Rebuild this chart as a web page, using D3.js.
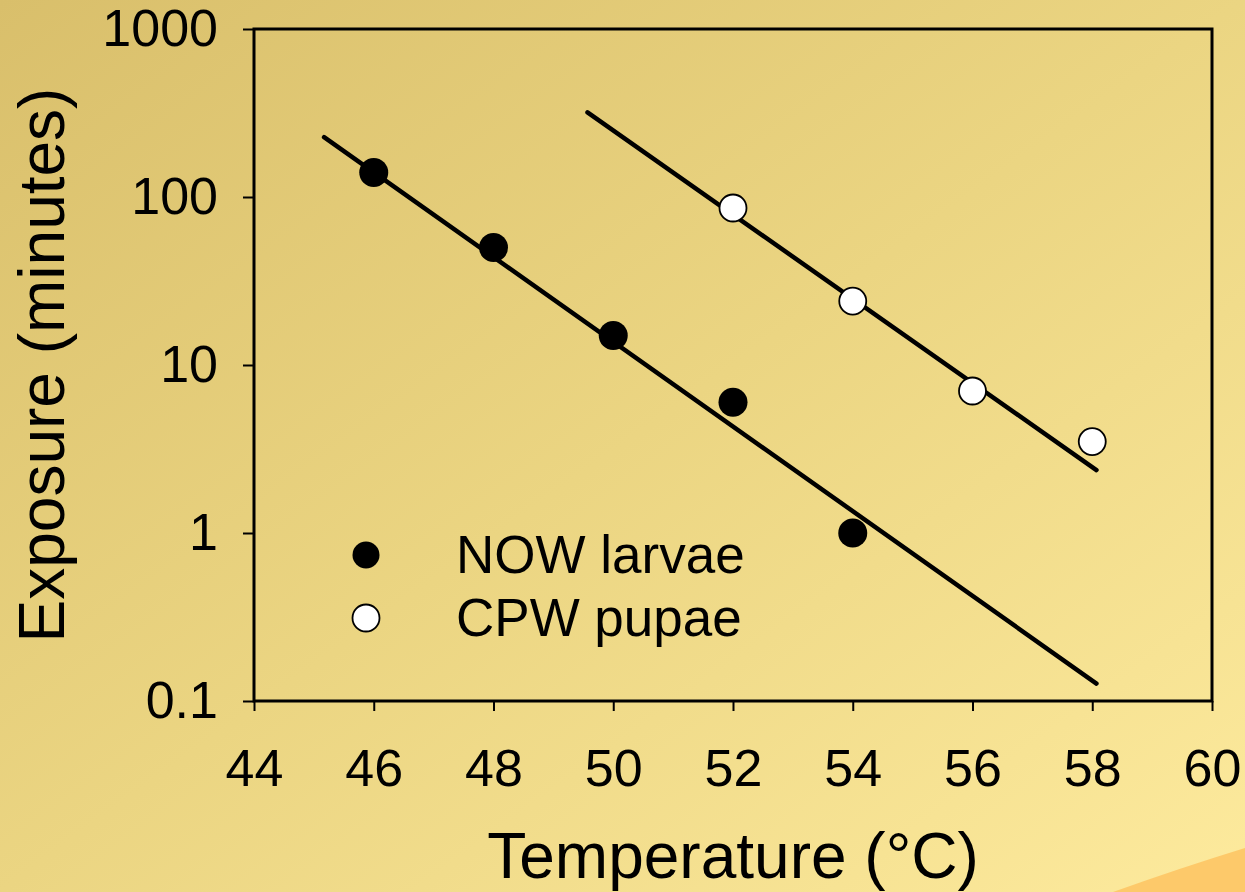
<!DOCTYPE html>
<html>
<head>
<meta charset="utf-8">
<script src="https://cdn.jsdelivr.net/npm/d3@7"></script>
<style>
  body { margin: 0; overflow: hidden; }
  svg { display: block; font-family: "Liberation Sans", Arial, sans-serif; }
</style>
</head>
<body>
<div id="chart"></div>
<script>
// Data
const nowTemps = [46, 48, 50, 52, 54];
const nowExposure = [140, 50, 15, 6, 1];
const cpwTemps = [52, 54, 56, 58];
const cpwExposure = [86, 24, 7, 3.5];

// fitted lines (end points)
const nowFitTemps = [45.17, 58.07];
const nowFitExposure = [227, 0.127];
const cpwFitTemps = [49.57, 58.07];
const cpwFitExposure = [319, 2.37];

const xTicks = [44, 46, 48, 50, 52, 54, 56, 58, 60];
const yTicks = [0.1, 1, 10, 100, 1000];
const legendLabels = ["NOW larvae", "CPW pupae"];

const W = 1245, H = 892;
const margin = { top: 29, right: 33, bottom: 191, left: 254 };
const width = W - margin.left - margin.right;
const height = H - margin.top - margin.bottom;

const svg = d3.select("#chart").append("svg")
  .attr("width", W)
  .attr("height", H);

// Background gradient
const defs = svg.append("defs");
const grad = defs.append("linearGradient")
  .attr("id", "bg")
  .attr("x1", 0).attr("y1", 0).attr("x2", 1).attr("y2", 1);
grad.append("stop").attr("offset", "0%").attr("stop-color", "#d9bf6b");
grad.append("stop").attr("offset", "50%").attr("stop-color", "#ebd582");
grad.append("stop").attr("offset", "100%").attr("stop-color", "#fdea9d");

svg.append("rect")
  .attr("width", W).attr("height", H)
  .attr("fill", "url(#bg)");

// orange swoosh at bottom right corner
svg.append("path")
  .attr("d", `M1113,${H} Q1180,868 ${W},848 L${W},${H} Z`)
  .attr("fill", "#fdc96a");

const g = svg.append("g")
  .attr("transform", `translate(${margin.left},${margin.top})`);

const x = d3.scaleLinear().domain([44, 60]).range([0, width]);
const y = d3.scaleLog().domain([0.1, 1000]).range([height, 0]);

// Axes
const xAxis = g.append("g")
  .attr("transform", `translate(0,${height})`)
  .call(d3.axisBottom(x).tickValues(xTicks).tickSize(10).tickPadding(38).tickFormat(d3.format("d")));
xAxis.select(".domain").remove();
xAxis.selectAll("line").attr("stroke", "#000").attr("stroke-width", 2);
xAxis.selectAll("text").attr("fill", "#000").style("font-size", "52px");

const yAxis = g.append("g")
  .call(d3.axisLeft(y).tickValues(yTicks).tickSize(11).tickPadding(25).tickFormat(d => d < 1 ? "0.1" : d3.format("d")(d)));
yAxis.select(".domain").remove();
yAxis.selectAll("line").attr("stroke", "#000").attr("stroke-width", 2);
yAxis.selectAll("text").attr("fill", "#000").style("font-size", "52px");

// Frame
g.append("rect")
  .attr("width", width).attr("height", height)
  .attr("fill", "none")
  .attr("stroke", "#000")
  .attr("stroke-width", 3);

// Axis titles
svg.append("text")
  .attr("x", margin.left + width / 2)
  .attr("y", 878)
  .attr("text-anchor", "middle")
  .style("font-size", "64px")
  .text("Temperature (°C)");

svg.append("text")
  .attr("transform", "rotate(-90)")
  .attr("x", -(margin.top + height / 2))
  .attr("y", 64)
  .attr("text-anchor", "middle")
  .style("font-size", "64px")
  .text("Exposure (minutes)");

// Fitted lines
const line = d3.line().x(d => x(d[0])).y(d => y(d[1]));
const fits = [d3.zip(nowFitTemps, nowFitExposure), d3.zip(cpwFitTemps, cpwFitExposure)];
g.selectAll(".fit")
  .data(fits)
  .enter()
  .append("path")
  .attr("class", "fit")
  .attr("d", line)
  .attr("fill", "none")
  .attr("stroke", "#000")
  .attr("stroke-width", 4.5)
  .attr("stroke-linecap", "round");

// Points
g.selectAll(".now")
  .data(d3.zip(nowTemps, nowExposure))
  .enter()
  .append("circle")
  .attr("class", "now")
  .attr("cx", d => x(d[0]))
  .attr("cy", d => y(d[1]))
  .attr("r", 14.5)
  .attr("fill", "#000");

g.selectAll(".cpw")
  .data(d3.zip(cpwTemps, cpwExposure))
  .enter()
  .append("circle")
  .attr("class", "cpw")
  .attr("cx", d => x(d[0]))
  .attr("cy", d => y(d[1]))
  .attr("r", 13.5)
  .attr("fill", "#fff")
  .attr("stroke", "#000")
  .attr("stroke-width", 1.8);

// Legend
const legend = svg.append("g").attr("transform", "translate(366,555)");
legendLabels.forEach((label, i) => {
  const row = legend.append("g").attr("transform", `translate(0,${i * 63})`);
  row.append("circle")
    .attr("r", 13.5)
    .attr("fill", i === 0 ? "#000" : "#fff")
    .attr("stroke", "#000")
    .attr("stroke-width", i === 0 ? 0 : 1.8);
  row.append("text")
    .attr("x", 90)
    .attr("y", 18)
    .style("font-size", "53px")
    .text(label);
});
</script>
</body>
</html>
